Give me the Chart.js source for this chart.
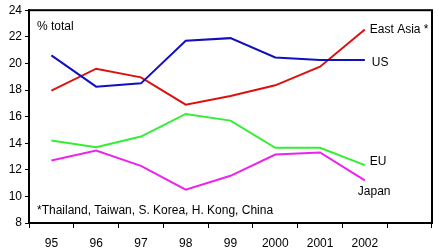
<!DOCTYPE html>
<html>
<head>
<meta charset="utf-8">
<script src="https://cdn.jsdelivr.net/npm/chart.js@4/dist/chart.umd.min.js"></script>
<style>
  html, body { margin: 0; padding: 0; background: #fff; }
  #wrap { width: 438px; height: 249px; }
</style>
</head>
<body>
<div id="wrap"><canvas id="chart" width="438" height="249"></canvas></div>
<script>
// x categories (last slot is empty, as in the original)
const years = ["95", "96", "97", "98", "99", "2000", "2001", "2002", ""];
const us       = [20.6, 18.25, 18.5, 21.7, 21.9, 20.45, 20.25, 20.25];
const eastAsia = [17.95, 19.6, 18.95, 16.9, 17.55, 18.35, 19.75, 22.55];
const eu       = [14.2, 13.7, 14.5, 16.2, 15.7, 13.65, 13.65, 12.35];
const japan    = [12.7, 13.45, 12.3, 10.5, 11.55, 13.15, 13.3, 11.2];

const FONT = "'Liberation Sans', Arial, sans-serif";
Chart.defaults.font.family = FONT;
Chart.defaults.font.size = 12;
Chart.defaults.color = "#000";

const series = [
  { name: "US", data: us, color: "#1010c0", dx: 7, dy: 3 },
  { name: "East Asia *", data: eastAsia, color: "#dd1010", dx: 5, dy: 0 },
  { name: "EU", data: eu, color: "#33ee33", dx: 5, dy: -3 },
  { name: "Japan", data: japan, color: "#ee22ee", dx: -7, dy: 11 },
];

// frame + text annotations
const decor = {
  id: "decor",
  afterDraw(chart) {
    const { ctx, chartArea: a, scales } = chart;
    ctx.save();
    ctx.strokeStyle = "#000";
    ctx.lineWidth = 2;
    ctx.strokeRect(a.left, a.top, a.right - a.left, a.bottom - a.top);
    ctx.font = "12px " + FONT;
    ctx.fillStyle = "#000";
    ctx.textBaseline = "middle";
    ctx.textAlign = "left";
    ctx.fillText("% total", a.left + 8, scales.y.getPixelForValue(22.75));
    ctx.fillText("*Thailand, Taiwan, S. Korea, H. Kong, China", a.left + 8, scales.y.getPixelForValue(8.9));
    const last = us.length - 1;
    const xl = scales.x.getPixelForValue(last);
    series.forEach((s) => {
      const y = scales.y.getPixelForValue(s.data[last]) + s.dy;
      ctx.fillText(s.name, xl + s.dx, y);
    });
    ctx.restore();
  },
};

new Chart(document.getElementById("chart"), {
  type: "line",
  data: {
    labels: years,
    datasets: series.map((s) => ({
      label: s.name, data: s.data, borderColor: s.color,
      borderWidth: 2, pointRadius: 0, tension: 0, fill: false,
    })),
  },
  options: {
    responsive: false, animation: false,
    layout: { padding: { top: 8, right: 6, left: 0, bottom: 0 } },
    plugins: { legend: { display: false }, tooltip: { enabled: false } },
    scales: {
      x: {
        offset: true,
        grid: { offset: true, drawOnChartArea: false, tickLength: 5, color: "#000", lineWidth: 1 },
        border: { color: "#000", width: 2 },
        ticks: { padding: 8, maxRotation: 0, autoSkip: false },
        afterFit(s) { s.height = 26; },
      },
      y: {
        min: 8, max: 24,
        grid: { drawOnChartArea: false, tickLength: 4, color: "#000" },
        border: { color: "#000", width: 2 },
        ticks: { stepSize: 2, padding: 3 },
        afterFit(s) { s.width = 29; },
      },
    },
  },
  plugins: [decor],
});
</script>
</body>
</html>
